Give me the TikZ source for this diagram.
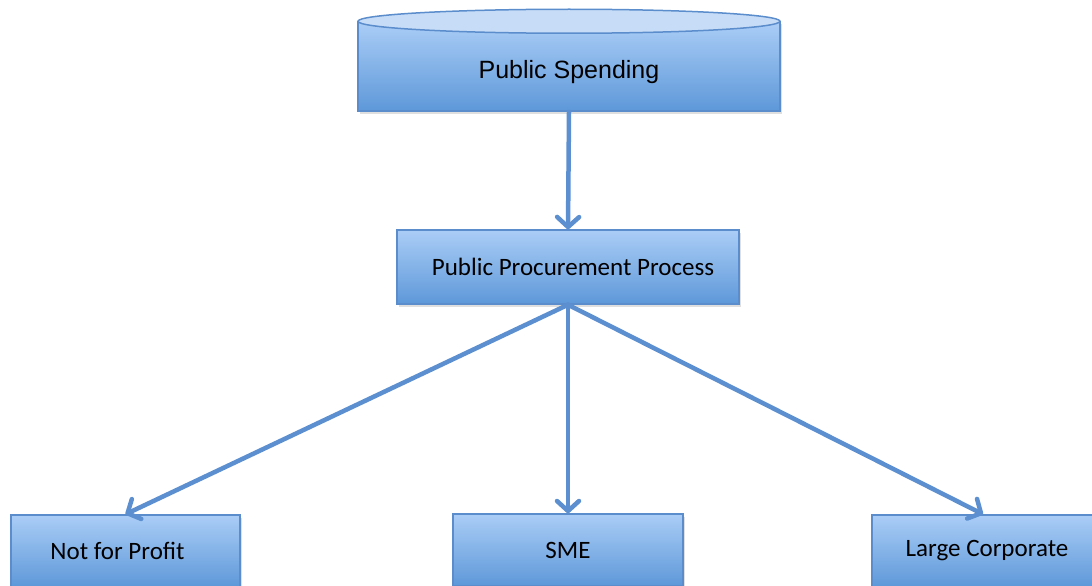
\documentclass[tikz,border=0pt]{standalone}
\usepackage{fontspec}
\setmainfont{Carlito}
\newfontfamily\arialfont{Liberation Sans}
\usetikzlibrary{arrows.meta, shadows}

\definecolor{boxtop}{HTML}{AACDF6}
\definecolor{boxbottom}{HTML}{5E98D9}
\definecolor{boxline}{HTML}{5B8DCD}
\definecolor{lidfill}{HTML}{C7DDF7}
\definecolor{flowline}{HTML}{5B8FCF}

\begin{document}
\begin{tikzpicture}[x=1pt, y=-1pt,
    blue box/.style={draw=boxline, line width=1.5pt, top color=boxtop, bottom color=boxbottom,
      drop shadow={opacity=0.25, shadow xshift=1.5pt, shadow yshift=-2.5pt},
      inner sep=0pt, font=\fontsize{25}{30}\selectfont},
    flow/.style={draw=flowline, line width=4.5pt, line cap=round,
      -{Straight Barb[length=10pt, width=22pt, round]}}]
    \clip (0,0) rectangle (1092,586);

    % can on top
    \node[blue box, minimum width=422pt, minimum height=89pt, font=\arialfont\fontsize{25}{30}\selectfont,
      text height=24pt, text depth=0pt]
      (spending) at (569,66.5) {Public Spending};
    \filldraw[draw=boxline, line width=1.5pt, fill=lidfill] (spending.north) ellipse (211pt and 12pt);

    \node[blue box, minimum width=342pt, minimum height=74pt]
      (procurement) at (568,267) {\hspace*{10pt}Public Procurement Process};

    \node[blue box, minimum width=229pt, minimum height=72pt] (not profit) at (125.5,551) {Not for Profit\hspace*{16pt}};
    \node[blue box, minimum width=230pt, minimum height=72pt] (sme)        at (568,550)   {SME};
    \node[blue box, minimum width=222pt, minimum height=72pt] (large corp) at (983,551)   {\hspace*{8pt}Large Corporate};

    \draw[flow] (spending.south) -- (procurement.north);
    \draw[flow] (procurement.south) -- (not profit.north);
    \draw[flow] (procurement.south) -- (sme.north);
    \draw[flow] (procurement.south) -- (large corp.north);
\end{tikzpicture}
\end{document}
